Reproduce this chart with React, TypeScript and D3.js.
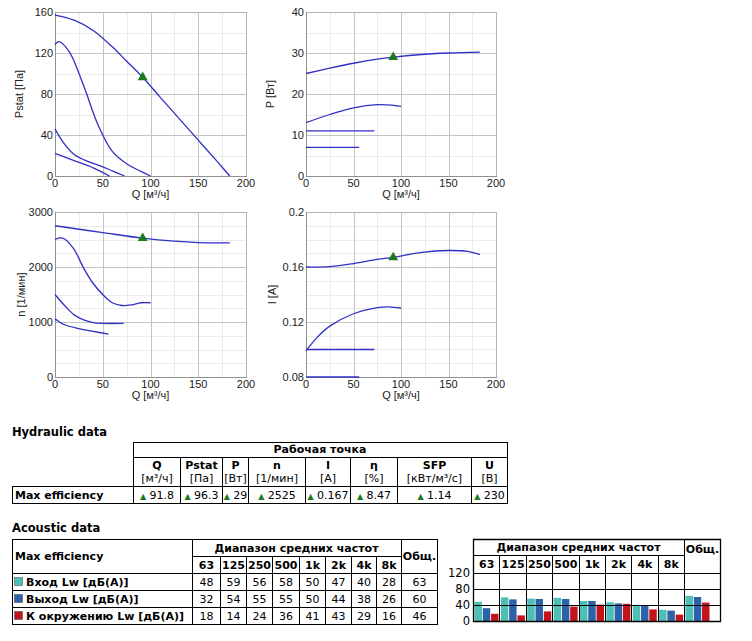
import React from 'react';
import * as d3 from 'd3';

type Pt = [number, number];

// ---------- Line chart data (Q [м³/ч] vs value) ----------
const Q_TICKS = [0, 50, 100, 150, 200];

const pstatCurve1: Pt[] = [[0, 157], [20, 152], [40, 142], [60, 126], [75, 112], [91.8, 96.3], [110, 77], [130, 56], [150, 35], [170, 14], [183, 0]];
const pstatCurve2: Pt[] = [[0, 128], [4, 131], [15, 121], [30, 88], [45, 50], [60, 24], [75, 12], [90, 4.5], [100, 0]];
const pstatCurve3: Pt[] = [[0, 46], [10, 31], [20, 21], [35, 14], [50, 9], [60, 5], [73, 0]];
const pstatCurve4: Pt[] = [[0, 22], [20, 15], [40, 8], [57, 0]];

const powerCurve1: Pt[] = [[0, 25], [25, 26.3], [50, 27.5], [75, 28.5], [91.8, 29], [125, 29.7], [150, 30], [183, 30.2]];
const powerCurve2: Pt[] = [[0, 13], [25, 15], [50, 16.6], [75, 17.4], [90, 17.3], [100, 17]];
const powerCurve3: Pt[] = [[0, 11], [72, 11]];
const powerCurve4: Pt[] = [[0, 7], [56, 7]];

const speedCurve1: Pt[] = [[0, 2750], [50, 2625], [91.8, 2525], [125, 2470], [150, 2445], [183, 2440]];
const speedCurve2: Pt[] = [[0, 2500], [5, 2530], [10, 2510], [20, 2320], [30, 1980], [40, 1700], [50, 1500], [60, 1350], [70, 1300], [80, 1310], [90, 1350], [100, 1350]];
const speedCurve3: Pt[] = [[0, 1500], [10, 1300], [20, 1130], [30, 1040], [40, 990], [50, 975], [72, 975]];
const speedCurve4: Pt[] = [[0, 1060], [10, 950], [25, 880], [40, 830], [56, 780]];

const currentCurve1: Pt[] = [[0, 0.16], [25, 0.1603], [50, 0.1625], [75, 0.1655], [91.8, 0.167], [120, 0.1705], [150, 0.172], [170, 0.1713], [183, 0.169]];
const currentCurve2: Pt[] = [[0, 0.099], [12, 0.109], [25, 0.117], [50, 0.126], [75, 0.1305], [87, 0.131], [100, 0.13]];
const currentCurve3: Pt[] = [[0, 0.1], [72, 0.1]];
const currentCurve4: Pt[] = [[0, 0.08], [56, 0.08]];

const workPstat: Pt = [91.8, 96.3];
const workPower: Pt = [91.8, 29];
const workSpeed: Pt = [91.8, 2525];
const workCurrent: Pt = [91.8, 0.167];

// ---------- Hydraulic table ----------
const hydNames = ['Q', 'Pstat', 'P', 'n', 'I', 'η', 'SFP', 'U'];
const hydUnits = ['[м³/ч]', '[Па]', '[Вт]', '[1/мин]', '[A]', '[%]', '[кВт/м³/с]', '[В]'];
const hydValues = ['91.8', '96.3', '29', '2525', '0.167', '8.47', '1.14', '230'];

// ---------- Acoustic table ----------
const freqLabels = ['63', '125', '250', '500', '1k', '2k', '4k', '8k'];
const inletLw = [48, 59, 56, 58, 50, 47, 40, 28];
const outletLw = [32, 54, 55, 55, 50, 44, 38, 26];
const envLw = [18, 14, 24, 36, 41, 43, 29, 16];
const inletTotal = 63;
const outletTotal = 60;
const envTotal = 46;
const acousticRowLabels = ['Вход Lw [дБ(А)]', 'Выход Lw [дБ(А)]', 'К окружению Lw [дБ(А)]'];
const barTicks = [0, 40, 80, 120];

const COL_IN = '#4dbfb5';
const COL_OUT = '#2b62a8';
const COL_ENV = '#c4141b';
const LINE_COL = '#3030c4';
const MARK_COL = '#1b7a1b';
const CHART_FONT = '"Liberation Sans", Arial, sans-serif';
const TABLE_FONT = '"DejaVu Sans", Verdana, sans-serif';

interface ChartCfg {
  left: number; right: number; top: number; bottom: number;
  yMin: number; yMax: number; major: number; minor: number;
  title: string; titleX: number; curves: Pt[][]; work: Pt;
}

function LineChart({ cfg }: { cfg: ChartCfg }) {
  const x = d3.scaleLinear().domain([0, 200]).range([cfg.left, cfg.right]);
  const y = d3.scaleLinear().domain([cfg.yMin, cfg.yMax]).range([cfg.bottom, cfg.top]);
  const line = d3.line<Pt>().x(d => x(d[0])).y(d => y(d[1])).curve(d3.curveCatmullRom.alpha(0.5));
  const nMinor = Math.round((cfg.yMax - cfg.yMin) / cfg.minor);
  const nMajor = Math.round((cfg.yMax - cfg.yMin) / cfg.major);
  const yMinor = d3.range(nMinor + 1).map(i => cfg.yMin + i * cfg.minor);
  const yMajor = d3.range(nMajor + 1).map(i => cfg.yMin + i * cfg.major);
  const xMinor = d3.range(0, 201, 25);
  const fmt = d3.format('~g');
  const tri = d3.symbol().type(d3.symbolTriangle).size(42)();
  return (
    <g>
      {yMinor.map((v, i) => (
        <line key={'ym' + i} x1={cfg.left} x2={cfg.right} y1={Math.round(y(v)) + 0.5} y2={Math.round(y(v)) + 0.5} stroke="#ebebeb" />
      ))}
      {xMinor.map((v, i) => (
        <line key={'xm' + i} x1={Math.round(x(v)) + 0.5} x2={Math.round(x(v)) + 0.5} y1={cfg.top} y2={cfg.bottom} stroke={v % 50 === 0 ? '#c4c4c4' : '#ebebeb'} />
      ))}
      {yMajor.map((v, i) => (
        <line key={'yM' + i} x1={cfg.left} x2={cfg.right} y1={Math.round(y(v)) + 0.5} y2={Math.round(y(v)) + 0.5} stroke="#c4c4c4" />
      ))}
      <rect x={cfg.left + 0.5} y={cfg.top + 0.5} width={cfg.right - cfg.left} height={cfg.bottom - cfg.top} fill="none" stroke="#b4b4b4" />
      <line x1={cfg.left + 0.5} x2={cfg.left + 0.5} y1={cfg.top} y2={cfg.bottom + 1} stroke="#909090" />
      <line x1={cfg.left} x2={cfg.right + 1} y1={cfg.bottom + 0.5} y2={cfg.bottom + 0.5} stroke="#909090" />
      {cfg.curves.map((c, i) => (
        <path key={'c' + i} d={line(c) || ''} fill="none" stroke={LINE_COL} strokeWidth={1.3} />
      ))}
      <path d={tri || ''} transform={`translate(${x(cfg.work[0])},${y(cfg.work[1])})`} fill={MARK_COL} />
      {yMajor.map((v, i) => (
        <text key={'yl' + i} x={cfg.left - 2} y={y(v)} dy="0.35em" textAnchor="end" fontSize={11} fontFamily={CHART_FONT} fill="#222">{fmt(v)}</text>
      ))}
      {Q_TICKS.map((v, i) => (
        <text key={'xl' + i} x={x(v)} y={cfg.bottom + 11} textAnchor="middle" fontSize={11} fontFamily={CHART_FONT} fill="#222">{v}</text>
      ))}
      <text x={(cfg.left + cfg.right) / 2} y={cfg.bottom + 22} textAnchor="middle" fontSize={11} fontFamily={CHART_FONT} fill="#222">Q [м³/ч]</text>
      <text transform={`translate(${cfg.titleX},${(cfg.top + cfg.bottom) / 2}) rotate(-90)`} textAnchor="middle" dy="0.35em" fontSize={11} fontFamily={CHART_FONT} fill="#222">{cfg.title}</text>
    </g>
  );
}

const charts: ChartCfg[] = [
  { left: 55, right: 246, top: 12, bottom: 176, yMin: 0, yMax: 160, major: 40, minor: 20, title: 'Pstat [Па]', titleX: 19, curves: [pstatCurve1, pstatCurve2, pstatCurve3, pstatCurve4], work: workPstat },
  { left: 306, right: 496, top: 12, bottom: 176, yMin: 0, yMax: 40, major: 10, minor: 5, title: 'P [Вт]', titleX: 270, curves: [powerCurve1, powerCurve2, powerCurve3, powerCurve4], work: workPower },
  { left: 55, right: 246, top: 212, bottom: 377, yMin: 0, yMax: 3000, major: 1000, minor: 250, title: 'n [1/мин]', titleX: 21, curves: [speedCurve1, speedCurve2, speedCurve3, speedCurve4], work: workSpeed },
  { left: 306, right: 496, top: 212, bottom: 377, yMin: 0.08, yMax: 0.2, major: 0.04, minor: 0.01, title: 'I [A]', titleX: 272, curves: [currentCurve1, currentCurve2, currentCurve3, currentCurve4], work: workCurrent },
];

function HLine({ x1, x2, y, w = 1 }: { x1: number; x2: number; y: number; w?: number }) {
  return <line x1={x1} x2={x2} y1={y + 0.5} y2={y + 0.5} stroke="#000" strokeWidth={w} />;
}
function VLine({ x, y1, y2, w = 1 }: { x: number; y1: number; y2: number; w?: number }) {
  return <line x1={x + 0.5} x2={x + 0.5} y1={y1} y2={y2 + 1} stroke="#000" strokeWidth={w} />;
}

function HydraulicTable() {
  const edges = [133, 180, 222, 248, 305, 350, 397, 471, 507];
  const y0 = 442, y1 = 457, y2 = 486, y3 = 503;
  return (
    <g fontFamily={TABLE_FONT} fontSize={11} fill="#000">
      <text x={12} y={436} fontWeight="bold" fontSize={11.5}>Hydraulic data</text>
      <HLine x1={133} x2={508} y={y0} />
      <HLine x1={133} x2={508} y={y1} />
      <HLine x1={12} x2={508} y={y2} />
      <HLine x1={12} x2={508} y={y3} />
      <VLine x={12} y1={y2} y2={y3} />
      <VLine x={133} y1={y0} y2={y3} />
      <VLine x={507} y1={y0} y2={y3} />
      {edges.slice(1, -1).map((e, i) => <VLine key={i} x={e} y1={y1} y2={y3} />)}
      <text x={(133 + 507) / 2} y={453} textAnchor="middle" fontWeight="bold">Рабочая точка</text>
      {hydNames.map((n, i) => {
        const cx = (edges[i] + edges[i + 1]) / 2 + 0.5;
        return (
          <g key={n}>
            <text x={cx} y={469} textAnchor="middle" fontWeight="bold">{n}</text>
            <text x={cx} y={482} textAnchor="middle">{hydUnits[i]}</text>
            <text x={cx} y={499} textAnchor="middle"><tspan fill={MARK_COL} fontSize={8}>▲</tspan><tspan> {hydValues[i]}</tspan></text>
          </g>
        );
      })}
      <text x={15} y={499} fontWeight="bold">Max efficiency</text>
    </g>
  );
}

function AcousticTable() {
  const edges = [192, 220, 246, 272, 299, 325, 351, 376, 401];
  const right = 437;
  const rows = [573, 590, 607, 624];
  const data = [inletLw, outletLw, envLw];
  const totals = [inletTotal, outletTotal, envTotal];
  const colors = [COL_IN, COL_OUT, COL_ENV];
  return (
    <g fontFamily={TABLE_FONT} fontSize={11} fill="#000">
      <text x={12} y={532} fontWeight="bold" fontSize={11.5}>Acoustic data</text>
      <HLine x1={12} x2={right + 1} y={539} />
      <HLine x1={192} x2={401} y={556} />
      {rows.map((r, i) => <HLine key={i} x1={12} x2={right + 1} y={r} />)}
      <VLine x={12} y1={539} y2={624} />
      <VLine x={192} y1={539} y2={624} />
      <VLine x={401} y1={539} y2={624} />
      <VLine x={right} y1={539} y2={624} />
      {edges.slice(1, -1).map((e, i) => <VLine key={i} x={e} y1={556} y2={624} />)}
      <text x={15} y={560} fontWeight="bold">Max efficiency</text>
      <text x={(192 + 401) / 2} y={552} textAnchor="middle" fontWeight="bold">Диапазон средних частот</text>
      <text x={(401 + right) / 2 + 0.5} y={560} textAnchor="middle" fontWeight="bold">Общ.</text>
      {freqLabels.map((f, i) => (
        <text key={f} x={(edges[i] + edges[i + 1]) / 2 + 0.5} y={569} textAnchor="middle" fontWeight="bold">{f}</text>
      ))}
      {data.map((row, r) => (
        <g key={r}>
          <rect x={14.5} y={rows[r] + 4.5} width={8} height={8} fill={colors[r]} stroke="#555" strokeWidth={0.6} />
          <text x={26} y={rows[r] + 13} fontWeight="bold">{acousticRowLabels[r]}</text>
          {row.map((v, i) => (
            <text key={i} x={(edges[i] + edges[i + 1]) / 2 + 0.5} y={rows[r] + 13} textAnchor="middle">{v}</text>
          ))}
          <text x={(401 + right) / 2 + 0.5} y={rows[r] + 13} textAnchor="middle">{totals[r]}</text>
        </g>
      ))}
    </g>
  );
}

function MiniBarTable() {
  const left = 473, totalX = 684, right = 720;
  const top = 539, split = 555, hdr = 573, bottom = 621;
  const col = d3.scaleBand<string>().domain(freqLabels).range([left, totalX]);
  const inner = d3.scaleBand<string>().domain(['in', 'out', 'env']).range([1.5, 25.5]).paddingInner(0.1);
  const y = d3.scaleLinear().domain([0, 120]).range([bottom, hdr]);
  const series = [
    { key: 'in', vals: inletLw, total: inletTotal, color: COL_IN },
    { key: 'out', vals: outletLw, total: outletTotal, color: COL_OUT },
    { key: 'env', vals: envLw, total: envTotal, color: COL_ENV },
  ];
  return (
    <g fontFamily={TABLE_FONT} fontSize={11} fill="#000">
      {series.map(s => (
        <g key={s.key}>
          {s.vals.map((v, i) => (
            <rect key={i} x={(col(freqLabels[i]) || 0) + (inner(s.key) || 0)} y={y(v)} width={inner.bandwidth()} height={bottom - y(v)} fill={s.color} />
          ))}
          <rect x={totalX + (inner(s.key) || 0)} y={y(s.total)} width={inner.bandwidth()} height={bottom - y(s.total)} fill={s.color} />
        </g>
      ))}
      <HLine x1={left} x2={right + 1} y={top} w={1.3} />
      <HLine x1={left} x2={totalX} y={split} />
      {barTicks.map(t => <HLine key={t} x1={left} x2={right + 1} y={Math.round(y(t))} w={t === 0 ? 1.5 : 1} />)}
      <VLine x={left} y1={top} y2={bottom} w={1.3} />
      <VLine x={right} y1={top} y2={bottom} w={1.3} />
      <VLine x={totalX} y1={top} y2={bottom} />
      {freqLabels.slice(1).map(f => <VLine key={f} x={Math.round(col(f) || 0)} y1={split} y2={bottom} />)}
      <text x={(left + totalX) / 2} y={551} textAnchor="middle" fontWeight="bold">Диапазон средних частот</text>
      <text x={(totalX + right) / 2 + 0.5} y={553} textAnchor="middle" fontWeight="bold">Общ.</text>
      {freqLabels.map(f => (
        <text key={f} x={(col(f) || 0) + col.bandwidth() / 2 + 0.5} y={568} textAnchor="middle" fontWeight="bold">{f}</text>
      ))}
      {barTicks.map(t => (
        <text key={'t' + t} x={470} y={y(t)} dy="0.35em" textAnchor="end" fontSize={11.5}>{t}</text>
      ))}
    </g>
  );
}

export default function App() {
  return (
    <svg width={752} height={641} style={{ position: 'absolute', left: 0, top: 0, background: '#fff' }}>
      <rect x={0} y={0} width={752} height={641} fill="#fff" />
      {charts.map((c, i) => <LineChart key={i} cfg={c} />)}
      <HydraulicTable />
      <AcousticTable />
      <MiniBarTable />
    </svg>
  );
}
